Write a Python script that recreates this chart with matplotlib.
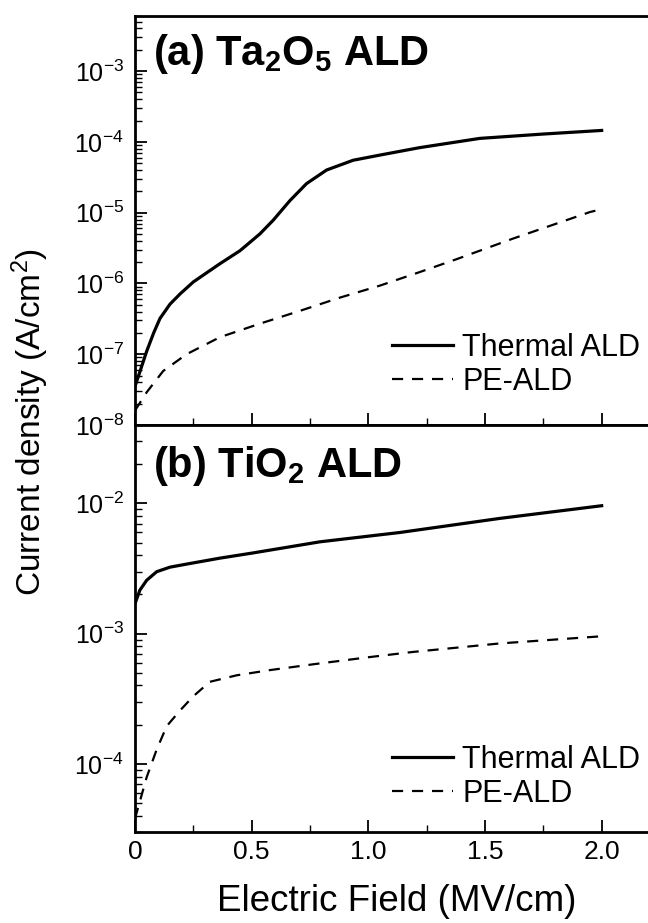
import numpy as np
import matplotlib
matplotlib.use("Agg")
import matplotlib.pyplot as plt
from matplotlib.ticker import LogLocator, NullFormatter, MultipleLocator, FuncFormatter

plt.rcParams['font.family'] = 'Liberation Sans'
plt.rcParams['mathtext.fontset'] = 'custom'
plt.rcParams['mathtext.rm'] = 'Liberation Sans'
plt.rcParams['mathtext.it'] = 'Liberation Sans:italic'
plt.rcParams['mathtext.bf'] = 'Liberation Sans:bold'
plt.rcParams['axes.unicode_minus'] = False

# (a) Ta2O5 ALD
E_a_thermal = [0, 0.05, 0.08, 0.107, 0.15, 0.193, 0.25, 0.364, 0.45, 0.535, 0.592, 0.664,
               0.735, 0.821, 0.935, 1.049, 1.221, 1.478, 1.75, 2.0]
J_a_thermal = [3.5e-8, 1.1e-7, 2.0e-7, 3.2e-7, 5.1e-7, 7.1e-7, 1.05e-6, 1.9e-6, 2.9e-6, 5.0e-6,
               7.8e-6, 1.48e-5, 2.57e-5, 4.0e-5, 5.5e-5, 6.5e-5, 8.3e-5, 1.12e-4, 1.29e-4, 1.45e-4]
E_a_pe = [0, 0.05, 0.121, 0.221, 0.364, 0.535, 0.707, 0.878, 1.049, 1.221, 1.378, 1.62, 1.95, 2.0]
J_a_pe = [1.6e-8, 2.9e-8, 5.8e-8, 1.0e-7, 1.74e-7, 2.7e-7, 4.1e-7, 6.3e-7, 9.3e-7, 1.45e-6,
          2.2e-6, 4.3e-6, 1.02e-5, 1.12e-5]

# (b) TiO2 ALD
E_b_thermal = [0, 0.021, 0.05, 0.093, 0.15, 0.221, 0.364, 0.507, 0.792, 1.135, 1.563, 2.0]
J_b_thermal = [1.7e-3, 2.16e-3, 2.57e-3, 2.99e-3, 3.24e-3, 3.42e-3, 3.8e-3, 4.17e-3, 5.07e-3,
               5.98e-3, 7.67e-3, 9.6e-3]
E_b_pe = [0, 0.05, 0.093, 0.136, 0.193, 0.25, 0.321, 0.436, 0.578, 0.764, 1.006, 1.192, 1.563, 2.0]
J_b_pe = [3.8e-5, 7.9e-5, 1.29e-4, 1.95e-4, 2.57e-4, 3.31e-4, 4.27e-4, 4.79e-4, 5.25e-4, 5.82e-4,
          6.61e-4, 7.24e-4, 8.41e-4, 9.55e-4]

W, H = 648, 923
fig = plt.figure(figsize=(W / 100, H / 100), dpi=100)

left = 135 / W
width = 525 / W
ax1 = fig.add_axes([left, 1 - 425 / H, width, (425 - 16) / H])
ax2 = fig.add_axes([left, 1 - 832 / H, width, (832 - 425) / H])

solid = dict(color='black', lw=2.3, linestyle='-')
dashed = dict(color='black', lw=1.6, linestyle=(0, (5, 4)))

for ax, Et, Jt, Ep, Jp in [(ax1, E_a_thermal, J_a_thermal, E_a_pe, J_a_pe),
                           (ax2, E_b_thermal, J_b_thermal, E_b_pe, J_b_pe)]:
    ax.plot(Et, Jt, label='Thermal ALD', **solid)
    ax.plot(Ep, Jp, label='PE-ALD', **dashed)
    ax.set_yscale('log')
    ax.set_xlim(0, 2.25)
    ax.xaxis.set_major_locator(MultipleLocator(0.5))
    ax.xaxis.set_minor_locator(MultipleLocator(0.25))
    ax.yaxis.set_major_locator(LogLocator(base=10, numticks=20))
    ax.yaxis.set_minor_locator(LogLocator(base=10, subs=np.arange(2, 10), numticks=100))
    ax.yaxis.set_minor_formatter(NullFormatter())
    ax.tick_params(which='both', direction='in', top=False, right=False)
    ax.tick_params(which='major', length=8.5, width=1.3, pad=8)
    ax.tick_params(which='minor', length=5, width=1.0)
    ax.tick_params(axis='y', labelsize=18)
    ax.tick_params(axis='x', labelsize=19)
    for s in ax.spines.values():
        s.set_linewidth(2)

ax1.set_ylim(1e-8, 6.0e-3)
ax2.set_ylim(3.0e-5, 4.0e-2)
ax1.tick_params(axis='x', labelbottom=False)
ax2.xaxis.set_major_formatter(FuncFormatter(lambda v, p: '0' if v == 0 else f'{v:.1f}'))
ax2.tick_params(axis='x', pad=6)

leg_kw = dict(frameon=False, fontsize=22, handlelength=2.0, handletextpad=0.3,
              labelspacing=0.12, borderpad=0, borderaxespad=0, loc='center left',
              bbox_transform=fig.transFigure)
ax1.legend(bbox_to_anchor=(392 / W, 1 - 365 / H), **leg_kw)
ax2.legend(bbox_to_anchor=(392 / W, 1 - 777 / H), **leg_kw)

fig.text(153 / W, 1 - 65 / H, r'(a) Ta$_\mathbf{2}$O$_\mathbf{5}$ ALD',
         fontsize=30, fontweight='bold', ha='left', va='baseline')
fig.text(153 / W, 1 - 477 / H, r'(b) TiO$_\mathbf{2}$ ALD',
         fontsize=30, fontweight='bold', ha='left', va='baseline')

fig.text(30 / W, 1 - 422 / H, 'Current density (A/cm$^2$)', rotation=90,
         ha='center', va='center', fontsize=24)
fig.text(397 / W, 1 - 911 / H, 'Electric Field (MV/cm)',
         ha='center', va='baseline', fontsize=26.5)

fig.savefig('out.png', dpi=100)
